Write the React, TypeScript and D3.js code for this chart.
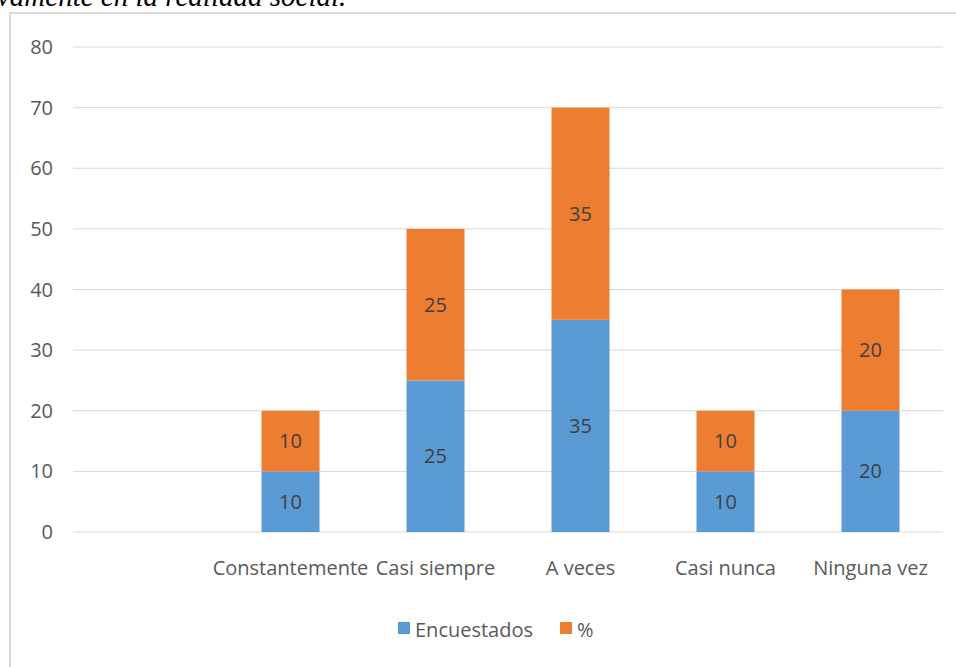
import React from "react";
import * as d3 from "d3";

const categories = ["", "Constantemente", "Casi siempre", "A veces", "Casi nunca", "Ninguna vez"];
const encuestados: (number | null)[] = [null, 10, 25, 35, 10, 20];
const porcentaje: (number | null)[] = [null, 10, 25, 35, 10, 20];
const seriesNames = ["Encuestados", "%"];
const yTicks = [0, 10, 20, 30, 40, 50, 60, 70, 80];
const headingText = "vamente en la realidad social.";

const W = 956;
const H = 667;
const COLORS = ["#5B9BD5", "#ED7D31"];
const FONT = "'Open Sans', 'Noto Sans', sans-serif";
const FS = 20;

export default function App() {
  const x = d3
    .scaleBand<string>()
    .domain(categories.map((c, i) => `${i}`))
    .range([73, 943])
    .paddingInner(0.6)
    .paddingOuter(0.3);
  const y = d3.scaleLinear().domain([0, 80]).range([532, 47]);

  const rows = categories.map((c, i) => ({ key: `${i}`, label: c, a: encuestados[i], b: porcentaje[i] }));
  const stack = d3
    .stack<any>()
    .keys(["a", "b"])
    .value((d: any, k: string) => (d[k] == null ? 0 : d[k]));
  const layers = stack(rows);

  return (
    <svg width={W} height={H} style={{ position: "absolute", left: 0, top: 0, background: "#fff" }}>
      <text x={-3} y={6} fontFamily="'Liberation Serif', 'DejaVu Serif', serif" fontStyle="italic" fontSize={29} fill="#000">
        {headingText}
      </text>
      <rect x={10} y={13} width={W} height={H} fill="#fff" stroke="#D9D9D9" strokeWidth={2} />
      {yTicks.map((t) => (
        <g key={t}>
          <line x1={73} x2={943} y1={y(t)} y2={y(t)} stroke="#D9D9D9" strokeWidth={1} />
          <text x={53} y={y(t)} dy="0.35em" textAnchor="end" fontFamily={FONT} fontSize={FS} fill="#595959">
            {t}
          </text>
        </g>
      ))}
      {layers.map((layer, li) => (
        <g key={li}>
          {layer.map((seg, i) => {
            const v = li === 0 ? rows[i].a : rows[i].b;
            if (v == null) return null;
            const x0 = x(rows[i].key)!;
            const bw = x.bandwidth();
            const y0 = y(seg[1]);
            const y1 = y(seg[0]);
            return (
              <g key={i}>
                <rect x={x0} y={y0} width={bw} height={y1 - y0} fill={COLORS[li]} />
                <text
                  x={x0 + bw / 2}
                  y={(y0 + y1) / 2}
                  dy="0.35em"
                  textAnchor="middle"
                  fontFamily={FONT}
                  fontSize={FS}
                  fill="#404040"
                >
                  {v}
                </text>
              </g>
            );
          })}
        </g>
      ))}
      {rows.map((r) => (
        <text
          key={r.key}
          x={x(r.key)! + x.bandwidth() / 2}
          y={568}
          dy="0.35em"
          textAnchor="middle"
          fontFamily={FONT}
          fontSize={FS}
          fill="#595959"
        >
          {r.label}
        </text>
      ))}
      {seriesNames.map((s, i) => {
        const lx = i === 0 ? 398 : 560;
        return (
          <g key={s}>
            <rect x={lx} y={622} width={12} height={12} fill={COLORS[i]} />
            <text x={lx + 17} y={630} dy="0.35em" fontFamily={FONT} fontSize={FS} fill="#595959">
              {s}
            </text>
          </g>
        );
      })}
    </svg>
  );
}
